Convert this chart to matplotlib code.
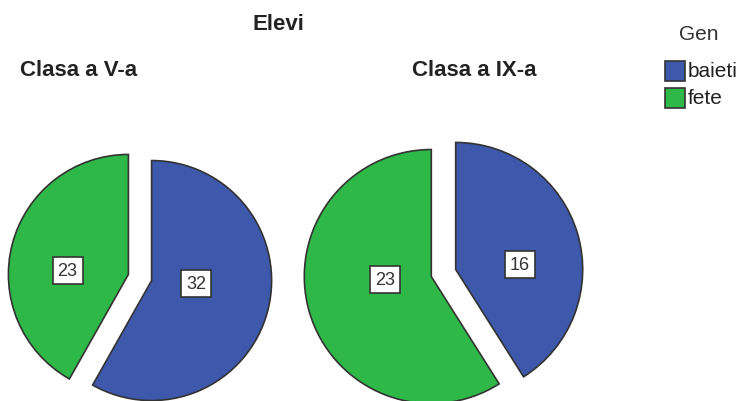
import numpy as np
import matplotlib.pyplot as plt
from matplotlib.patches import Rectangle

plt.rcParams['font.family'] = ['Liberation Sans', 'DejaVu Sans']

# counts per class, order: baieti, fete
genders = ['baieti', 'fete']
clasa_v = [32, 23]
clasa_ix = [16, 23]
colors = ['#3E58AC', '#2EB848']
edge = '#333333'

W, H = 741, 402
fig = plt.figure(figsize=(W / 100, H / 100), dpi=100)
ax = fig.add_axes([0, 0, 1, 1])


def draw_pie(values, center, radius):
    # explode is given in data units, so scale it by the radius
    wedges, _ = ax.pie(values, colors=colors, startangle=90, counterclock=False,
                       explode=[0.1 * radius] * len(values), center=center, radius=radius,
                       wedgeprops=dict(edgecolor=edge, linewidth=1.2))
    for w, v in zip(wedges, values):
        mid = np.deg2rad((w.theta1 + w.theta2) / 2)
        half = np.deg2rad(w.theta2 - w.theta1) / 2
        # distance of the sector centroid from its apex
        d = 2 * w.r * np.sin(half) / (3 * half) + 4
        x = w.center[0] + d * np.cos(mid)
        y = w.center[1] + 0.25 * d * np.sin(mid)
        ax.text(x, y, str(v), ha='center', va='center', fontsize=13,
                color='#333333',
                bbox=dict(boxstyle='square,pad=0.28', fc='white', ec=edge, lw=1.2))


draw_pie(clasa_v, (140, H - 278.5), 120)
draw_pie(clasa_ix, (443.5, H - 274), 127)

ax.set_xlim(0, W)
ax.set_ylim(0, H)
ax.set_aspect('equal')
ax.axis('off')

ax.text(278, H - 24, 'Elevi', ha='center', va='center', fontsize=16, fontweight='bold', color='#222222')
ax.text(20, H - 71, 'Clasa a V-a', ha='left', va='center', fontsize=16, fontweight='bold', color='#222222')
ax.text(412, H - 71, 'Clasa a IX-a', ha='left', va='center', fontsize=16, fontweight='bold', color='#222222')

# legend
ax.text(699, H - 34, 'Gen', ha='center', va='center', fontsize=15, color='#333333')
for i, (lab, col) in enumerate(zip(genders, colors)):
    yc = H - 71.5 - i * 27
    ax.add_patch(Rectangle((665, yc - 10), 20, 20, fc=col, ec=edge, lw=1.2))
    ax.text(688, yc, lab, ha='left', va='center', fontsize=15, color='#222222')

plt.savefig('out.png', dpi=100)
